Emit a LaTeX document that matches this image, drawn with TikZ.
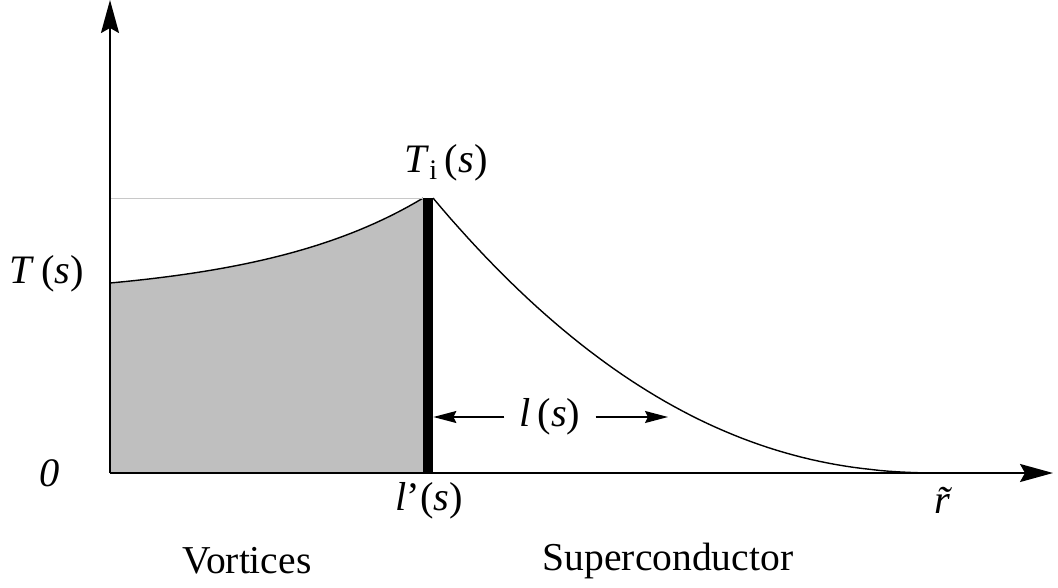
\documentclass[tikz,border=0pt]{standalone}
\usepackage{fontspec}
\setmainfont{Liberation Serif}[ItalicFont={Liberation Serif Italic}]
\newfontfamily\lblfont{Liberation Serif}[ItalicFont={Liberation Serif Italic}]
\usetikzlibrary{arrows.meta,positioning}
\definecolor{vxInk}{HTML}{000000}
\definecolor{vxFill}{HTML}{BFBFBF}
\definecolor{vxGuide}{HTML}{C8C8C8}
\tikzset{
  axis/.style={-{Stealth[length=0.66cm,width=0.36cm,inset=0.1cm]}, line width=1.1pt, draw=vxInk},
  dimarr/.style={-{Stealth[length=0.46cm,width=0.24cm,inset=0.06cm]}, line width=0.8pt, draw=vxInk},
  curve/.style={line width=0.8pt, draw=vxInk},
  wallbar/.style={fill=vxInk, inner sep=0pt, minimum width=0.2cm, minimum height=5.5cm},
  lbl/.style={font=\lblfont\fontsize{23}{26}\selectfont, inner sep=0pt},
  txt/.style={font=\lblfont\fontsize{22.5}{26}\selectfont, inner sep=0pt},
}
\begin{document}
\begin{tikzpicture}[x=0.02cm, y=-0.02cm]
  \useasboundingbox (0,0) rectangle (1058,588);
  \coordinate (o) at (110,473);
  \coordinate (ytip) at (110,0);
  \coordinate (xtip) at (1053,473);
  % vortex region
  \fill[vxFill] (o) -- plot[domain=110:423, samples=40] (\x, {473-174.66-15.34*exp(0.006*(\x-110))}) -- (423,473) -- cycle;
  \draw[curve] plot[domain=110:423, samples=40] (\x, {473-174.66-15.34*exp(0.006*(\x-110))});
  \draw[curve] plot[domain=433:940, samples=60] (\x, {473-275*((940-\x)/507)^2.2});
  \draw[vxGuide, line width=0.4pt] (o |- 0,198) -- (423,198);
  \node[wallbar, anchor=south] (wall) at (428,473) {};
  % axes
  \draw[axis] (o) -- (ytip);
  \draw[axis] (o) -- (xtip);
  % labels
  \node[lbl] (Ts) at (47,274) {\textit{T}\,(\textit{s})};
  \node[lbl] (zero) at (50,473) {\textit{0}};
  \node[lbl] (Ti) at (446,163) {\textit{T}\textsubscript{i}\,(\textit{s})};
  \node[lbl] (lp) at (429,501) {\textit{l}’(\textit{s})};
  \node[lbl] (rt) at (950,500) {\textit{\~{r}}};
  \node[lbl, inner xsep=0.3cm] (ls) at (550,417) {\textit{l}\,(\textit{s})};
  \coordinate (lsend) at (668,417);
  \draw[dimarr] (ls.west) -- (ls.west -| wall.east);
  \draw[dimarr] (ls.east) -- (lsend);
  \node[txt] (vort) at (247,561) {Vortices};
  \node[txt] (sc) at (668,561) {Superconductor};
\end{tikzpicture}
\end{document}
